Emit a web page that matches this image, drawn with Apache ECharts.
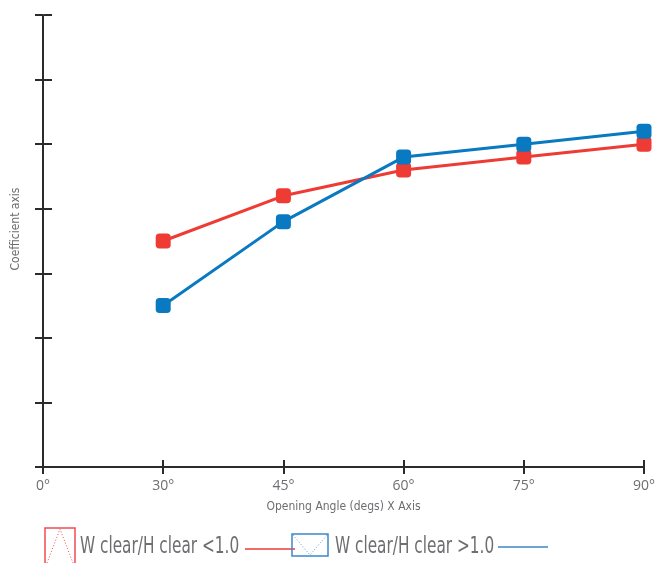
<!DOCTYPE html>
<html>
<head>
<meta charset="utf-8">
<script src="https://cdn.jsdelivr.net/npm/echarts@6/dist/echarts.min.js"></script>
<style>html,body{margin:0;padding:0;background:#fff}#c{width:659px;height:563px}</style>
</head>
<body>
<div id="c"></div>
<script>
const categories = ['0°', '30°', '45°', '60°', '75°', '90°'];
const seriesLess = [null, 3.5, 4.2, 4.6, 4.8, 5.0];
const seriesMore = [null, 2.5, 3.8, 4.8, 5.0, 5.2];
const seriesNames = ['W clear/H clear <1.0', 'W clear/H clear >1.0'];
const yMin = 0, yMax = 7, yStep = 1;

const RED = '#ee3b34', BLUE = '#0979c1', AX = '#2b2b2b', TXT = '#6d6e71';
const NARROW = '"Liberation Sans Narrow", "DejaVu Sans Condensed", sans-serif';

const chart = echarts.init(document.getElementById('c'), null, {renderer: 'canvas'});
const gridH = 452, gridW = 600;

const baseX = {
  type: 'category', data: categories, boundaryGap: false,
  axisLine: {show: true, onZero: false, lineStyle: {color: AX, width: 2}},
  splitLine: {show: false}
};
const baseY = {
  type: 'value', min: yMin, max: yMax, interval: yStep,
  axisLine: {show: true, onZero: false, lineStyle: {color: AX, width: 2}},
  splitLine: {show: false}, axisLabel: {show: false}
};

chart.setOption({
  animation: false,
  grid: {left: 43, right: 15, top: 15, bottom: 96, containLabel: false},
  xAxis: [
    Object.assign({}, baseX, {
      position: 'bottom',
      axisTick: {show: true, inside: false, length: 7, lineStyle: {color: AX, width: 2}},
      axisLabel: {color: TXT, fontSize: 14, margin: 12, fontFamily: '"Open Sans", sans-serif'},
      name: 'Opening Angle (degs) X Axis', nameLocation: 'middle', nameGap: 34,
      nameTextStyle: {color: TXT, fontSize: 12, fontFamily: NARROW}
    }),
    Object.assign({}, baseX, {
      position: 'top', offset: -gridH,
      axisLine: {show: false, onZero: false},
      axisTick: {show: true, inside: false, length: 7, lineStyle: {color: AX, width: 2}},
      axisLabel: {show: false}
    })
  ],
  yAxis: [
    Object.assign({}, baseY, {
      position: 'left',
      axisTick: {show: true, inside: false, length: 8, lineStyle: {color: AX, width: 2}},
      name: 'Coefficient axis', nameLocation: 'middle', nameGap: 21,
      nameTextStyle: {color: TXT, fontSize: 12, fontFamily: NARROW, padding: [0, 0, 0, 24]}
    }),
    Object.assign({}, baseY, {
      position: 'right', offset: -gridW,
      axisLine: {show: false, onZero: false},
      axisTick: {show: true, inside: false, length: 8, lineStyle: {color: AX, width: 2}}
    })
  ],
  series: [
    {
      name: seriesNames[0], type: 'line', data: seriesLess, xAxisIndex: 0, yAxisIndex: 0,
      symbol: 'roundRect', symbolSize: 15, showSymbol: true,
      lineStyle: {color: RED, width: 3}, itemStyle: {color: RED}, z: 3
    },
    {
      name: seriesNames[1], type: 'line', data: seriesMore, xAxisIndex: 0, yAxisIndex: 0,
      symbol: 'roundRect', symbolSize: 15, showSymbol: true,
      lineStyle: {color: BLUE, width: 3}, itemStyle: {color: BLUE}, z: 4
    }
  ],
  graphic: [
    {type: 'rect', shape: {x: 45, y: 528, width: 30, height: 42}, style: {fill: 'none', stroke: '#ef4b52', lineWidth: 1.5}, silent: true},
    {type: 'polyline', shape: {points: [[47, 563], [60, 529], [73, 563]]}, style: {fill: 'none', stroke: '#ef4b52', lineWidth: 1, lineDash: [1, 2]}, silent: true},
    {type: 'text', x: 80, y: 547, scaleX: 0.74, style: {text: seriesNames[0], fill: TXT, font: '23px ' + NARROW, textVerticalAlign: 'middle'}, silent: true},
    {type: 'line', shape: {x1: 245, y1: 549, x2: 295, y2: 549}, style: {stroke: RED, lineWidth: 1.5}, silent: true},
    {type: 'rect', shape: {x: 292, y: 534, width: 36, height: 22}, style: {fill: 'none', stroke: '#3b86c8', lineWidth: 1.5}, silent: true},
    {type: 'polyline', shape: {points: [[293, 535], [310, 555], [327, 535]]}, style: {fill: 'none', stroke: '#5a9ad4', lineWidth: 1, lineDash: [1, 2]}, silent: true},
    {type: 'text', x: 335, y: 547, scaleX: 0.74, style: {text: seriesNames[1], fill: TXT, font: '23px ' + NARROW, textVerticalAlign: 'middle'}, silent: true},
    {type: 'line', shape: {x1: 498, y1: 547, x2: 548, y2: 547}, style: {stroke: '#3b86c8', lineWidth: 1.5}, silent: true}
  ]
});
</script>
</body>
</html>
